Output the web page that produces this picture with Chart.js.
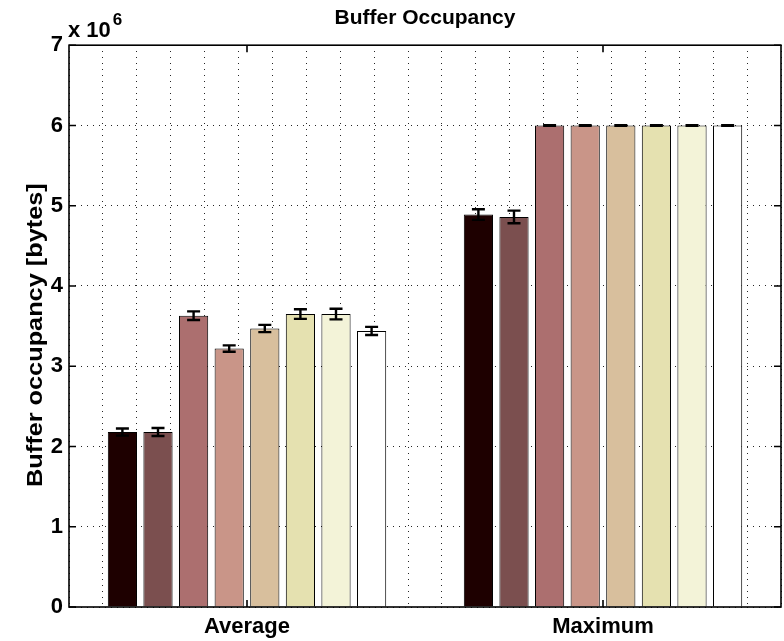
<!DOCTYPE html>
<html>
<head>
<meta charset="utf-8">
<script src="https://cdn.jsdelivr.net/npm/chart.js@4.4.1/dist/chart.umd.min.js"></script>
<style>
  html, body { margin: 0; padding: 0; background: #ffffff; }
  #wrap { width: 784px; height: 641px; }
</style>
</head>
<body>
<div id="wrap"><canvas id="c" width="784" height="641"></canvas></div>
<script>
// Buffer occupancy, in units of 10^6 bytes
const categories = ['Average', 'Maximum'];
const averageValues = [2.18, 2.18, 3.63, 3.22, 3.47, 3.65, 3.65, 3.44];
const averageErrors = [0.045, 0.05, 0.054, 0.04, 0.045, 0.06, 0.066, 0.05];
const maximumValues = [4.89, 4.86, 6.0, 6.0, 6.0, 6.0, 6.0, 6.0];
const maximumErrors = [0.066, 0.079, 0.004, 0.004, 0.004, 0.004, 0.004, 0.004];
const yTicks = [0, 1, 2, 3, 4, 5, 6, 7];
const exponentLabel = ['x 10', '6'];
const yAxisLabel = 'Buffer occupancy [bytes]';
const seriesColors = ['#1e0000', '#7b4f4f', '#ac6f6f', '#c99588', '#d8bf9d', '#e5e1b0', '#f3f3d8', '#ffffff'];

const FONT = "'Liberation Sans', Arial, Helvetica, sans-serif";
Chart.defaults.font.family = FONT;
Chart.defaults.color = '#000';

const datasets = seriesColors.map((color, i) => ({
  label: 'Series ' + (i + 1),
  data: [averageValues[i], maximumValues[i]],
  errors: [averageErrors[i], maximumErrors[i]],
  backgroundColor: color,
  borderColor: '#000',
  borderWidth: 1,
  borderSkipped: 'start',
  barPercentage: 0.82,
  categoryPercentage: 0.8
}));

// error bars with caps, drawn on top of each bar
const errorBars = {
  id: 'errorBars',
  afterDatasetsDraw(chart) {
    const ctx = chart.ctx, y = chart.scales.y;
    ctx.save();
    ctx.strokeStyle = '#000';
    ctx.lineWidth = 2.4;
    chart.data.datasets.forEach((ds, di) => {
      const meta = chart.getDatasetMeta(di);
      meta.data.forEach((bar, j) => {
        const v = ds.data[j], e = ds.errors[j];
        const yHi = y.getPixelForValue(v + e), yLo = y.getPixelForValue(v - e);
        const half = 6.5;
        ctx.beginPath();
        ctx.moveTo(bar.x, yHi); ctx.lineTo(bar.x, yLo);
        ctx.moveTo(bar.x - half, yHi); ctx.lineTo(bar.x + half, yHi);
        ctx.moveTo(bar.x - half, yLo); ctx.lineTo(bar.x + half, yLo);
        ctx.stroke();
      });
    });
    ctx.restore();
  }
};

// axes box with inward tick marks, the exponent note and the y label
const axesBox = {
  id: 'axesBox',
  afterDraw(chart) {
    const ctx = chart.ctx, a = chart.chartArea;
    const x = chart.scales.x, y = chart.scales.y;
    const tl = 7;
    ctx.save();
    ctx.strokeStyle = '#000';
    ctx.lineWidth = 1.6;
    ctx.strokeRect(a.left, a.top, a.right - a.left, a.bottom - a.top);
    ctx.beginPath();
    y.ticks.forEach((t, i) => {
      const py = y.getPixelForTick(i);
      ctx.moveTo(a.left, py); ctx.lineTo(a.left + tl, py);
      ctx.moveTo(a.right, py); ctx.lineTo(a.right - tl, py);
    });
    x.ticks.forEach((t, i) => {
      const px = x.getPixelForTick(i);
      ctx.moveTo(px, a.bottom); ctx.lineTo(px, a.bottom - tl);
      ctx.moveTo(px, a.top); ctx.lineTo(px, a.top + tl);
    });
    ctx.stroke();

    ctx.fillStyle = '#000';
    ctx.textAlign = 'left';
    ctx.textBaseline = 'alphabetic';
    const base = a.top - 8;
    ctx.font = 'bold 22px ' + FONT;
    ctx.fillText(exponentLabel[0], a.left - 1, base);
    const w = ctx.measureText(exponentLabel[0]).width;
    ctx.font = 'bold 17px ' + FONT;
    ctx.fillText(exponentLabel[1], a.left + w + 1, base - 12);

    // y axis label, rotated, slightly widened along its reading direction
    ctx.save();
    ctx.translate(a.left - 27, (a.top + a.bottom) / 2 + 9);
    ctx.rotate(-Math.PI / 2);
    ctx.scale(1.15, 1);
    ctx.font = 'bold 22px ' + FONT;
    ctx.textAlign = 'center';
    ctx.fillText(yAxisLabel, 0, 0);
    ctx.restore();
    ctx.restore();
  }
};

new Chart(document.getElementById('c'), {
  type: 'bar',
  data: { labels: categories, datasets },
  plugins: [errorBars, axesBox],
  options: {
    responsive: false,
    devicePixelRatio: 1,
    animation: false,
    layout: { padding: { left: 0, right: 3, top: 0, bottom: 0 } },
    plugins: {
      legend: { display: false },
      tooltip: { enabled: false },
      title: {
        display: true,
        fullSize: false,
        text: 'Buffer Occupancy',
        font: { size: 21, weight: 'bold' },
        color: '#000',
        padding: { top: 6, bottom: 14 }
      }
    },
    scales: {
      x: {
        type: 'category',
        offset: true,
        grid: { display: false, drawTicks: false },
        border: { display: false },
        ticks: { font: { size: 22, weight: 'bold' }, color: '#000', padding: 7 },
        afterFit(s) { s.height = 34; }
      },
      xg: {
        type: 'linear',
        position: 'top',
        min: 0.5,
        max: 2.5,
        ticks: { display: false, stepSize: 0.1 },
        border: { display: false, dash: [1, 5] },
        grid: {
          drawTicks: false,
          color: 'rgba(0,0,0,0.85)',
          lineWidth: 1
        },
        afterFit(s) { s.height = 0; }
      },
      y: {
        min: 0,
        max: 7,
        afterBuildTicks(s) { s.ticks = yTicks.map(v => ({ value: v })); },
        ticks: { font: { size: 22, weight: 'bold' }, color: '#000', padding: 6 },
        grid: { drawTicks: false, color: 'rgba(0,0,0,0.85)', lineWidth: 1 },
        border: { display: false, dash: [1, 5] },
        title: { display: false },
        afterFit(s) { s.width = 69; }
      }
    }
  }
});
</script>
</body>
</html>
